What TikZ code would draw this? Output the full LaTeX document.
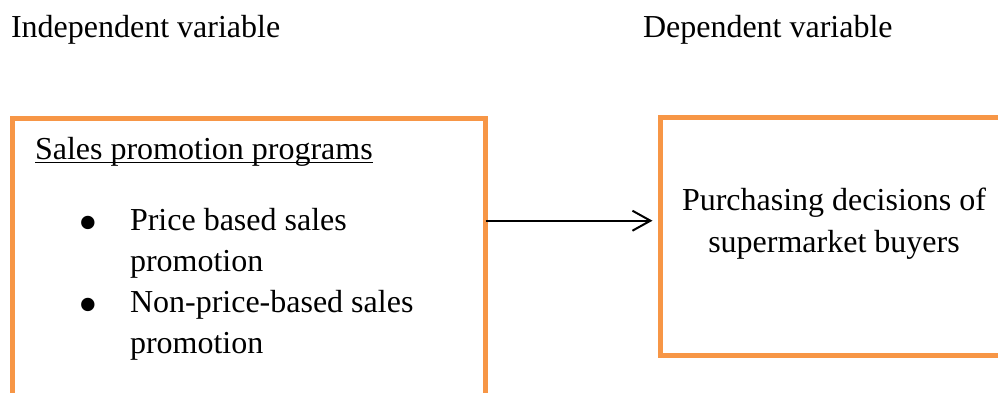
\documentclass[tikz,border=0pt]{standalone}
\usepackage{fontspec}
\setmainfont{Liberation Serif}
\usetikzlibrary{arrows.meta}
\definecolor{boxorange}{HTML}{F79646}
\tikzset{
  txt/.style={inner sep=0pt, outer sep=0pt, anchor=base west, font=\fontsize{32}{41}\selectfont},
  ctxt/.style={inner sep=0pt, outer sep=0pt, anchor=base, font=\fontsize{32}{41}\selectfont},
  bul/.style={inner sep=0pt, outer sep=0pt, anchor=center, font=\fontsize{56}{41}\selectfont},
  obox/.style={draw=boxorange, line width=5pt, inner sep=0pt, outer sep=0pt, anchor=north west},
  conn/.style={draw=black, line width=2pt, -{Straight Barb[length=18pt, width=20pt, line width=2pt]}}
}
\begin{document}
\begin{tikzpicture}[x=1pt, y=-1pt]
\useasboundingbox (0,0) rectangle (998,392);
\clip (0,0) rectangle (998,392);
\fill[white] (0,0) rectangle (998,392);
% headers
\node[txt] (indep) at (11,37) {Independent variable};
\node[txt] (dep) at (643,37) {Dependent variable};
% boxes
\node[obox, minimum width=473pt, minimum height=300pt] (leftbox) at (12.5,118) {};
\node[obox, minimum width=360pt, minimum height=237.5pt] (rightbox) at (660.5,117.5) {};
% left box content
\node[txt] (spp) at (35,159.5) {Sales promotion programs};
\draw[line width=1.5pt] ([yshift=-3pt]spp.base west) -- ([yshift=-3pt]spp.base east);
\node[bul] (b1) at (88,229) {\textbullet};
\node[txt] (l1) at (130,230) {Price based sales};
\node[txt] (l2) at (130,271) {promotion};
\node[bul] (b2) at (88,311) {\textbullet};
\node[txt] (l3) at (130,312) {Non-price-based sales};
\node[txt] (l4) at (130,353) {promotion};
% right box content
\node[ctxt] (r1) at (834,210) {Purchasing decisions of};
\node[ctxt] (r2) at (834,252) {supermarket buyers};
% connector
\coordinate (ay) at (0,220.7);
\draw[conn] (leftbox.east |- ay) -- ([xshift=-8pt]rightbox.west |- ay);
\end{tikzpicture}
\end{document}
